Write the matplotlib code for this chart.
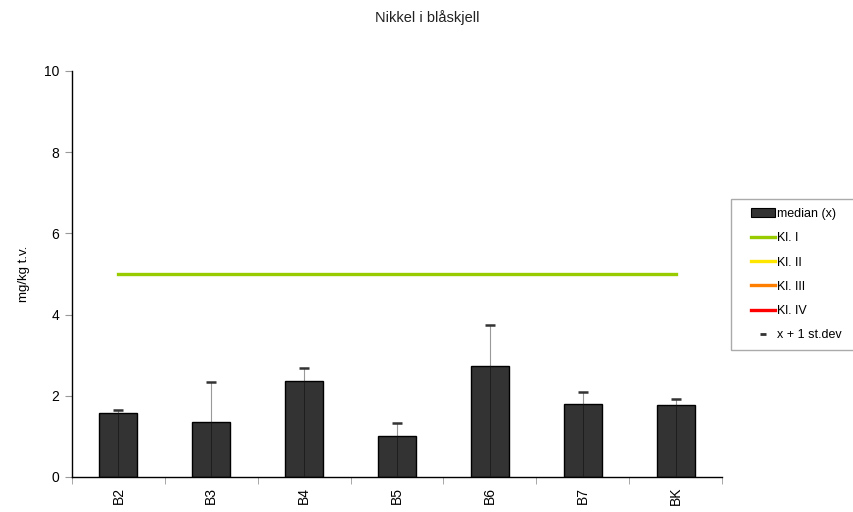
import matplotlib

matplotlib.use("Agg")
import matplotlib.pyplot as plt
import numpy as np
from matplotlib.lines import Line2D
from matplotlib.patches import Patch, Rectangle

plt.rcParams["font.family"] = ["Liberation Sans", "DejaVu Sans"]

# Data
stations = ["B2", "B3", "B4", "B5", "B6", "B7", "BK"]
median = [1.58, 1.36, 2.36, 1.01, 2.73, 1.80, 1.77]
mean_plus_sd = [1.64, 2.33, 2.68, 1.34, 3.74, 2.09, 1.91]

class_names = ["Kl. I", "Kl. II", "Kl. III", "Kl. IV"]
class_limits = [5, 20, 50, 100]
class_colors = ["#99CC00", "#FFE600", "#FF8000", "#FF0000"]

W, H = 854, 512
fig = plt.figure(figsize=(W / 100, H / 100), dpi=100)
# axes box in pixels: x 72..722, y 71..477
ax = fig.add_axes([72 / W, 1 - 477 / H, 650 / W, 406 / H])

x = np.arange(len(stations))

# st.dev whiskers drawn from the base through the bar
ax.vlines(x, 0, mean_plus_sd, color="#999999", linewidth=0.8, zorder=1)
ax.bar(x, median, width=0.41, color="#333333", edgecolor="black",
       linewidth=1.0, zorder=2)
ax.vlines(x, 0, median, color="#1a1a1a", linewidth=0.6, zorder=3)
ax.plot(x, mean_plus_sd, linestyle="none", marker="_", markersize=7,
        markeredgewidth=1.8, color="#333333", zorder=4)

for lim, col in zip(class_limits, class_colors):
    ax.plot([x[0], x[-1]], [lim, lim], color=col, linewidth=2.4, zorder=1.5)

ax.set_xlim(-0.5, len(stations) - 0.5)
ax.set_ylim(0, 10)
ax.set_yticks([0, 2, 4, 6, 8, 10])
ax.set_xticks(x)
ax.set_xticklabels(stations, rotation=90, fontsize=10)
ax.set_xticks(np.arange(len(stations) + 1) - 0.5, minor=True)
ax.tick_params(axis="x", which="major", length=0, pad=7)
ax.tick_params(axis="x", which="minor", length=5, color="#999999", direction="out")
ax.tick_params(axis="y", length=5, color="#999999", labelsize=10, pad=4)

for side in ("top", "right"):
    ax.spines[side].set_visible(False)
ax.spines["left"].set_linewidth(1.0)
ax.spines["bottom"].set_linewidth(1.0)

ax.set_ylabel("mg/kg t.v.", fontsize=9.5, labelpad=10)
fig.text(0.5, 1 - 18 / H, "Nikkel i blåskjell", ha="center", va="center",
         fontsize=10.5, color="#222222")

handles = [Patch(facecolor="#333333", edgecolor="black", linewidth=0.8)]
labels = ["median (x)"]
for name, col in zip(class_names, class_colors):
    handles.append(Line2D([], [], color=col, linewidth=2.4))
    labels.append(name)
handles.append(Line2D([], [], linestyle="none", marker="_", markersize=5,
                      markeredgewidth=2, color="#333333"))
labels.append("x + 1 st.dev")

# legend frame drawn separately so it can run off the right edge
fig.patches.append(Rectangle((731 / W, 1 - 350 / H), 160 / W, 151 / H,
                             transform=fig.transFigure, facecolor="white",
                             edgecolor="#aaaaaa", linewidth=1.0, zorder=0))
leg = fig.legend(handles, labels, loc="upper left",
                 bbox_to_anchor=(751 / W, 1 - 208 / H), fontsize=9,
                 frameon=False, handlelength=1.95, handletextpad=0.15,
                 labelspacing=0.98, borderpad=0, borderaxespad=0,
                 handleheight=0.65)

fig.savefig("out.png", dpi=100)
